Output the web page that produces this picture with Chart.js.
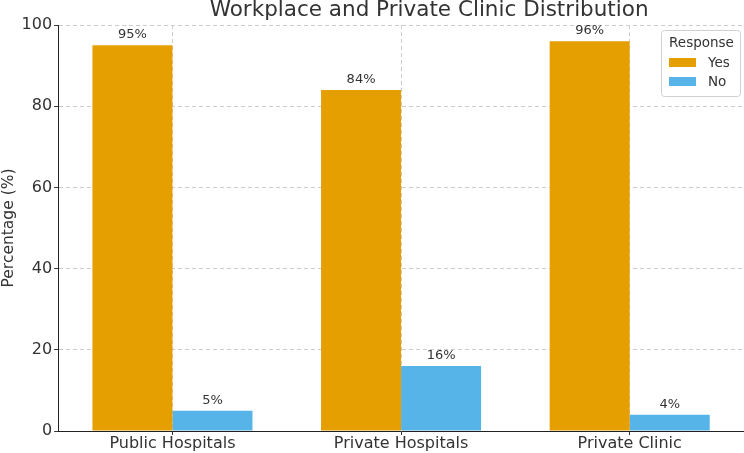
<!DOCTYPE html>
<html>
<head>
<meta charset="utf-8">
<script src="https://cdn.jsdelivr.net/npm/chart.js@4"></script>
<style>
  html, body { margin: 0; padding: 0; background: #fff; }
  #wrap { width: 744px; height: 453px; }
</style>
</head>
<body>
<div id="wrap"><canvas id="chart" width="744" height="453"></canvas></div>
<script>
const categories = ['Public Hospitals', 'Private Hospitals', 'Private Clinic'];
const yesValues = [95, 84, 96];
const noValues = [5, 16, 4];
const seriesNames = ['Yes', 'No'];
const legendTitle = 'Response';
const chartTitle = 'Workplace and Private Clinic Distribution';

const FONT = "'DejaVu Sans', sans-serif";
const TEXT = '#333333';

// title, partly cut at the top like the original
const titlePlugin = {
  id: 'topTitle',
  afterDraw(chart) {
    const ctx = chart.ctx;
    const area = chart.chartArea;
    ctx.save();
    ctx.font = '21.5px ' + FONT;
    ctx.fillStyle = TEXT;
    ctx.textAlign = 'center';
    ctx.textBaseline = 'alphabetic';
    ctx.fillText(chartTitle, area.left + 371, 16);
    ctx.restore();
  }
};

// value labels above bars
const valueLabels = {
  id: 'valueLabels',
  afterDatasetsDraw(chart) {
    const ctx = chart.ctx;
    ctx.save();
    ctx.font = '13px ' + FONT;
    ctx.fillStyle = TEXT;
    ctx.textAlign = 'center';
    ctx.textBaseline = 'bottom';
    chart.data.datasets.forEach((ds, i) => {
      chart.getDatasetMeta(i).data.forEach((bar, j) => {
        ctx.fillText(ds.data[j] + '%', bar.x, bar.y - 4);
      });
    });
    ctx.restore();
  }
};

// legend box inside the plot, upper right
const innerLegend = {
  id: 'innerLegend',
  afterDraw(chart) {
    const ctx = chart.ctx;
    const area = chart.chartArea;
    const w = 79, h = 66;
    const x0 = area.right - w - 4, y0 = area.top + 5;
    ctx.save();
    ctx.fillStyle = 'rgba(255,255,255,0.85)';
    ctx.strokeStyle = '#d0d0d0';
    ctx.lineWidth = 1;
    ctx.beginPath();
    ctx.roundRect(x0 + 0.5, y0 + 0.5, w, h, 3);
    ctx.fill();
    ctx.stroke();
    ctx.fillStyle = TEXT;
    ctx.font = '13.5px ' + FONT;
    ctx.textAlign = 'center';
    ctx.textBaseline = 'middle';
    ctx.fillText(legendTitle, x0 + w / 2 + 1, y0 + 13);
    ctx.textAlign = 'left';
    chart.data.datasets.forEach((ds, i) => {
      const yy = y0 + 32 + i * 19;
      ctx.fillStyle = ds.backgroundColor;
      ctx.fillRect(x0 + 8, yy - 4, 27, 9);
      ctx.fillStyle = TEXT;
      ctx.fillText(ds.label, x0 + 47, yy + 1);
    });
    ctx.restore();
  }
};

new Chart(document.getElementById('chart'), {
  type: 'bar',
  data: {
    labels: categories,
    datasets: [
      { label: seriesNames[0], data: yesValues, backgroundColor: '#E69F00', borderWidth: 0 },
      { label: seriesNames[1], data: noValues, backgroundColor: '#56B4E9', borderWidth: 0 }
    ]
  },
  options: {
    responsive: false,
    animation: false,
    layout: { padding: { top: 25, right: 0, bottom: 0, left: 0 } },
    datasets: { bar: { categoryPercentage: 0.7, barPercentage: 1.0 } },
    plugins: {
      legend: { display: false },
      tooltip: { enabled: false },
      title: { display: false }
    },
    scales: {
      x: {
        grid: {
          offset: false,
          color: '#cccccc',
          drawTicks: true,
          tickLength: 4,
          tickColor: '#333333'
        },
        border: { display: true, color: '#222222', width: 1, dash: [4, 3] },
        ticks: { color: TEXT, font: { family: FONT, size: 16, lineHeight: 1.0 }, padding: 1 }
      },
      y: {
        min: 0,
        max: 100,
        grid: { color: '#cccccc', drawTicks: true, tickLength: 4, tickColor: '#333333' },
        border: { display: true, color: '#222222', width: 1, dash: [4, 3] },
        ticks: { stepSize: 20, color: TEXT, font: { family: FONT, size: 16 }, padding: 2 },
        title: {
          display: true,
          text: 'Percentage (%)',
          color: TEXT,
          font: { family: FONT, size: 15.5 },
          padding: { top: 0, bottom: 1 }
        }
      }
    }
  },
  plugins: [titlePlugin, valueLabels, innerLegend]
});
</script>
</body>
</html>
